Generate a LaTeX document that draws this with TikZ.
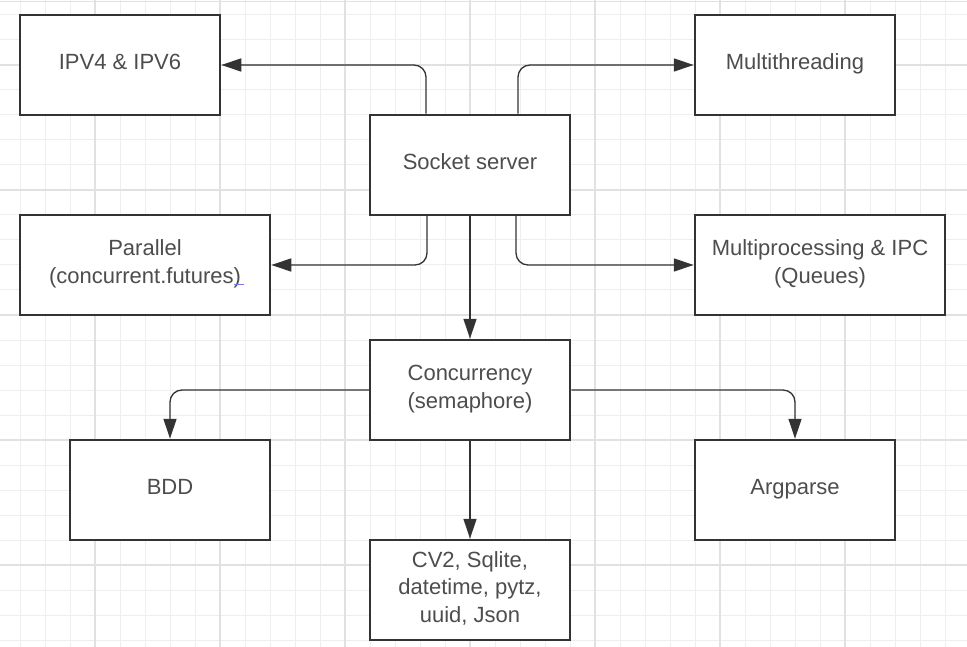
\documentclass[tikz,border=0pt]{standalone}
\usepackage{fontspec}
\setmainfont{Liberation Sans}
\usetikzlibrary{arrows.meta}
\newcommand\lstrut{\rule[-9.25pt]{0pt}{27.5pt}}
\definecolor{gridminor}{HTML}{EEEEEE}
\definecolor{gridmajor}{HTML}{E1E1E1}
\definecolor{boxline}{HTML}{333333}
\definecolor{txt}{HTML}{4D4D4D}
\definecolor{squig}{HTML}{7B7BF0}
\begin{document}
\begin{tikzpicture}[x=1pt,y=-1pt,
 box/.style={draw=boxline, line width=2.5pt, fill=white, inner sep=0pt, minimum height=100pt, align=center, text=txt, font=\fontsize{22}{27.5}\selectfont},
 conn/.style={draw=boxline, line width=1.3pt, rounded corners=12pt, -{Triangle[length=20pt,width=13pt]}}]
\useasboundingbox (0,0) rectangle (967,647);
\fill[white] (0,0) rectangle (967,647);
\foreach \x in {20,45,...,945} \draw[gridminor, line width=1pt] (\x,0) -- (\x,647);
\foreach \y in {15,40,...,640} \draw[gridminor, line width=1pt] (0,\y) -- (967,\y);
\foreach \x in {95,220,...,845} \draw[gridmajor, line width=1.5pt] (\x,0) -- (\x,647);
\foreach \y in {65,190,...,565} \draw[gridmajor, line width=1.5pt] (0,\y) -- (967,\y);
\draw[gridmajor, line width=1pt] (0,1.5) -- (967,1.5);
\node[box, minimum width=200pt] (ipv) at (120,65) {\lstrut IPV4 \& IPV6};
\node[box, minimum width=200pt] (sock) at (470,165) {\lstrut Socket server};
\node[box, minimum width=200pt] (mt) at (795,65) {\lstrut Multithreading};
\node[box, minimum width=250pt] (par) at (145,265) {\lstrut Parallel\\\lstrut (concurrent.futures)};
\node[box, minimum width=250pt] (mp) at (820,265) {\lstrut Multiprocessing \& IPC\\\lstrut (Queues)};
\node[box, minimum width=200pt] (conc) at (470,390) {\lstrut Concurrency\\\lstrut (semaphore)};
\node[box, minimum width=200pt] (bdd) at (170,490) {\lstrut BDD};
\node[box, minimum width=200pt] (arg) at (795,490) {\lstrut Argparse};
\node[box, minimum width=200pt] (cv) at (470,590) {\lstrut CV2, Sqlite,\\\lstrut datetime, pytz,\\\lstrut uuid, Json};
\draw[squig, line width=1pt] (234,284.5) -- (244,284.5);
\draw[conn] ([xshift=-44pt]sock.north) |- (ipv.east);
\draw[conn] ([xshift=48pt]sock.north) |- (mt.west);
\draw[conn] ([xshift=-43pt]sock.south) |- (par.east);
\draw[conn] ([xshift=46pt]sock.south) |- (mp.west);
\draw[conn] (sock.south) -- (conc.north);
\draw[conn] (conc.west) -| (bdd.north);
\draw[conn] (conc.east) -| (arg.north);
\draw[conn] (conc.south) -- (cv.north);
\end{tikzpicture}
\end{document}
